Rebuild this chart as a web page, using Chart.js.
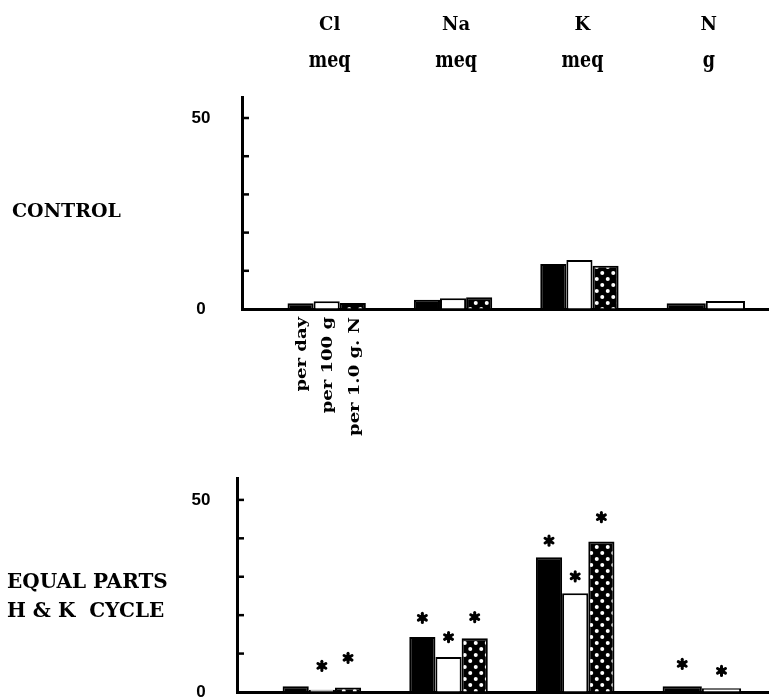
<!DOCTYPE html>
<html>
<head>
<meta charset="utf-8">
<script src="https://cdn.jsdelivr.net/npm/chart.js@4.4.0/dist/chart.umd.min.js"></script>
<style>
  body { margin: 0; background: #fff; width: 769px; height: 697px; overflow: hidden; position: relative; }
  canvas { position: absolute; left: 0; }
  #controlChart { top: 0; }
  #equalChart { top: 460px; }
</style>
</head>
<body>
<canvas id="controlChart" width="769" height="460"></canvas>
<canvas id="equalChart" width="769" height="237"></canvas>
<script>
var elements = ['Cl', 'Na', 'K', 'N'];
var units = ['meq', 'meq', 'meq', 'g'];
var seriesNames = ['per day', 'per 100 g', 'per 1.0 g. N'];
var yTickLabels = [0, 50];

// CONTROL panel
var controlPerDay = [1.5, 2.4, 11.8, 1.5];
var controlPer100g = [2.0, 2.8, 12.8, 2.1];
var controlPerGramN = [1.6, 3.1, 11.3, null];

// EQUAL PARTS H & K CYCLE panel
var equalPerDay = [1.5, 14.3, 35.1, 1.5];
var equalPer100g = [0.6, 9.1, 25.7, 1.0];
var equalPerGramN = [1.2, 14.0, 39.2, null];

// height of the significance asterisks (same units as the y axis)
var starPerDay = [null, 19.3, 39.4, 7.3];
var starPer100g = [6.8, 14.3, 30.1, 5.5];
var starPerGramN = [8.9, 19.5, 45.5, null];

var serif = '"DejaVu Serif", serif';

function toXY(arr) {
    return arr.map((v, i) => ({ x: i, y: v }));
}

function dots() {
    var c = document.createElement('canvas');
    c.width = 11; c.height = 12;
    var g = c.getContext('2d');
    g.fillStyle = '#000';
    g.fillRect(0, 0, 11, 12);
    g.fillStyle = '#fff';
    [[2.75, 3], [8.25, 9]].forEach(p => {
        g.beginPath();
        g.arc(p[0], p[1], 2, 0, Math.PI * 2);
        g.fill();
    });
    return g.createPattern(c, 'repeat');
}

function txt(ctx, s, x, y, font, align, sx, sy) {
    ctx.save();
    ctx.translate(x, y);
    ctx.scale(sx || 1, sy || 1);
    ctx.font = font;
    ctx.textAlign = align || 'left';
    ctx.textBaseline = 'alphabetic';
    ctx.fillStyle = '#000';
    ctx.fillText(s, 0, 0);
    ctx.restore();
}

function star(ctx, x, y) {
    ctx.save();
    ctx.strokeStyle = '#000';
    ctx.fillStyle = '#000';
    ctx.lineWidth = 3;
    ctx.lineCap = 'round';
    for (var k = 0; k < 3; k++) {
        var a = Math.PI / 2 + k * Math.PI / 3;
        ctx.beginPath();
        ctx.moveTo(x + 4.6 * Math.cos(a), y + 4.6 * Math.sin(a));
        ctx.lineTo(x - 4.6 * Math.cos(a), y - 4.6 * Math.sin(a));
        ctx.stroke();
    }
    ctx.beginPath();
    ctx.arc(x, y, 3.2, 0, Math.PI * 2);
    ctx.fill();
    ctx.restore();
}

var extras = {
    id: 'extras',
    afterDraw(chart, args, o) {
        var ctx = chart.ctx;
        var xs = chart.scales.x, ys = chart.scales.y;
        var left = chart.chartArea.left;

        // inner tick marks on the y axis
        ctx.save();
        ctx.strokeStyle = '#000';
        ctx.lineWidth = 2.5;
        ys.ticks.forEach(t => {
            if (t.value === 0) return;
            var y = ys.getPixelForValue(t.value);
            ctx.beginPath();
            ctx.moveTo(left, y);
            ctx.lineTo(left + 7, y);
            ctx.stroke();
        });
        ctx.restore();

        // row label on the left
        o.rowLabel.forEach((line, i) => {
            txt(ctx, line, o.rowX, o.rowY[i], 'bold ' + o.rowSize + 'px ' + serif, 'left');
        });

        if (o.headers) {
            elements.forEach((e, i) => {
                var x = xs.getPixelForValue(i) + 3;
                txt(ctx, e, x, 30, 'bold 18px ' + serif, 'center');
                txt(ctx, units[i], x, 67, 'bold 19px ' + serif, 'center', 0.92, 1.15);
            });
        }

        if (o.seriesLabels) {
            seriesNames.forEach((name, k) => {
                var bar = chart.getDatasetMeta(k).data[0];
                ctx.save();
                ctx.translate(bar.x + 2, chart.chartArea.bottom + 8);
                ctx.rotate(-Math.PI / 2);
                ctx.scale(1, 0.8);
                ctx.font = 'bold 18px ' + serif;
                ctx.textAlign = 'right';
                ctx.textBaseline = 'middle';
                ctx.fillStyle = '#000';
                ctx.fillText(name, 0, 0);
                ctx.restore();
            });
        }

        if (o.stars) {
            o.stars.forEach((arr, k) => {
                var meta = chart.getDatasetMeta(k);
                arr.forEach((v, i) => {
                    if (v === null) return;
                    star(ctx, meta.data[i].x, ys.getPixelForValue(v));
                });
            });
        }
    }
};

function makeChart(id, vals, o) {
    return new Chart(document.getElementById(id), {
        type: 'bar',
        data: {
            datasets: [
                { label: seriesNames[0], data: toXY(vals[0]), backgroundColor: '#000' },
                { label: seriesNames[1], data: toXY(vals[1]), backgroundColor: '#fff' },
                { label: seriesNames[2], data: toXY(vals[2]), backgroundColor: dots() }
            ]
        },
        options: {
            responsive: false,
            animation: false,
            layout: { padding: { top: o.top, bottom: o.bottom, left: 0, right: 0 } },
            datasets: {
                bar: {
                    borderColor: '#000',
                    borderWidth: 2,
                    categoryPercentage: 0.62,
                    barPercentage: 1,
                    skipNull: true
                }
            },
            plugins: {
                legend: { display: false },
                tooltip: { enabled: false },
                extras: o.extras
            },
            scales: {
                x: {
                    type: 'linear',
                    min: -0.67,
                    max: o.xMax,
                    offset: false,
                    z: 1,
                    ticks: { display: false, stepSize: 1, includeBounds: false },
                    grid: { drawOnChartArea: false, drawTicks: false },
                    border: { color: '#000', width: 3 },
                    afterFit: s => { s.height = 0; s.paddingLeft = 0; s.paddingRight = 0; }
                },
                y: {
                    min: 0,
                    max: o.yMax,
                    border: { color: '#000', width: 3 },
                    grid: { drawOnChartArea: false, drawTicks: false },
                    ticks: {
                        stepSize: 10,
                        includeBounds: false,
                        crossAlign: 'center',
                        padding: o.tickPad,
                        color: '#000',
                        font: { family: '"Liberation Sans", sans-serif', weight: 'bold', size: 17 },
                        callback: v => yTickLabels.includes(v) ? String(v) : ''
                    },
                    afterFit: s => { s.width = o.axisX; s.paddingTop = 0; s.paddingBottom = 0; }
                }
            }
        },
        plugins: [extras]
    });
}

makeChart('controlChart', [controlPerDay, controlPer100g, controlPerGramN], {
    top: 97, bottom: 151, axisX: 242, tickPad: 31.5, yMax: 55.5, xMax: 3.5,
    extras: {
        rowLabel: ['CONTROL'], rowX: 12, rowY: [217], rowSize: 19,
        headers: true, seriesLabels: true
    }
});

makeChart('equalChart', [equalPerDay, equalPer100g, equalPerGramN], {
    top: 18, bottom: 5, axisX: 237, tickPad: 26.5, yMax: 55.7, xMax: 3.53,
    extras: {
        rowLabel: ['EQUAL PARTS', 'H & K  CYCLE'], rowX: 7, rowY: [128, 157], rowSize: 20,
        stars: [starPerDay, starPer100g, starPerGramN]
    }
});
</script>
</body>
</html>
